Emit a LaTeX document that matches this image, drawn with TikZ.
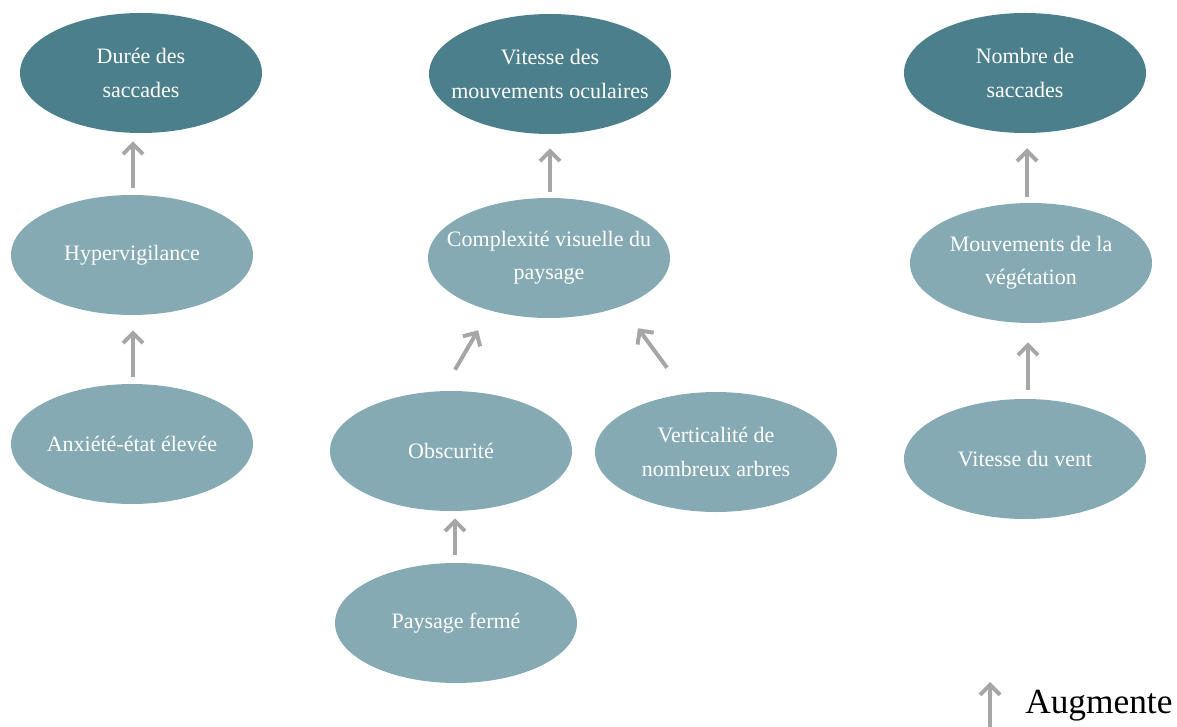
\documentclass[tikz,border=0pt]{standalone}
\usepackage{fontspec}
\setmainfont{Liberation Serif}
\usepackage{tikz}
\usepackage{xcolor}
\usetikzlibrary{arrows.meta,positioning,calc,shapes.geometric}
\definecolor{tealdark}{HTML}{4A7F8B}
\definecolor{teallight}{HTML}{86AAB4}
\definecolor{arrowgray}{HTML}{A6A6A6}

\begin{document}
\begin{tikzpicture}[x=0.75pt,y=-0.75pt,
    oval/.style={ellipse,minimum width=181.5pt,minimum height=90pt,
                 inner xsep=-20pt,inner ysep=0pt,
                 text=white,align=center,font=\fontsize{16.5}{25}\selectfont},
    cible/.style={oval,fill=tealdark},
    facteur/.style={oval,fill=teallight},
    hausse/.style={draw=arrowgray,line width=3pt,
                   -{Straight Barb[length=7.5pt,width=15pt]}}]
  \useasboundingbox (0,0) rectangle (1177,727);

  % effets mesures
  \node[cible] (duree)   at (141,73)  {Durée des\\saccades};
  \node[cible] (vitesse) at (550,74)  {Vitesse des\\mouvements oculaires};
  \node[cible] (nombre)  at (1025,73) {Nombre de\\saccades};

  % facteurs
  \node[facteur] (hyper)   at (132,255)  {Hypervigilance};
  \node[facteur] (compl)   at (549,258)  {Complexité visuelle du\\paysage};
  \node[facteur] (mouv)    at (1031,263) {Mouvements de la\\végétation};
  \node[facteur] (anx)     at (132,444)  {Anxiété-état élevée};
  \node[facteur] (obsc)    at (451,451)  {Obscurité};
  \node[facteur] (vert)    at (716,452)  {Verticalité de\\nombreux arbres};
  \node[facteur] (vent)    at (1025,459) {Vitesse du vent};
  \node[facteur] (paysage) at (456,623)  {Paysage fermé};

  \draw[hausse] ($(hyper.north)+(1,-7)$)    -- ($(duree.south)+(-8,8)$);
  \draw[hausse] ($(anx.north)+(1,-7)$)      -- ($(hyper.south)+(1,15)$);
  \draw[hausse] ($(compl.north)+(1,-6)$)    -- ($(vitesse.south)+(0,14)$);
  \draw[hausse] ($(obsc.north)+(4,-21)$)    -- ($(compl.south)+(-71,12)$);
  \draw[hausse] ($(vert.north)+(-49,-24)$)  -- ($(compl.south)+(89,10)$);
  \draw[hausse] ($(paysage.north)+(-1,-8)$) -- ($(obsc.south)+(4,7)$);
  \draw[hausse] ($(vent.north)+(3,-9)$)     -- ($(mouv.south)+(-3,19)$);
  \draw[hausse] ($(mouv.north)+(-4,-6)$)    -- ($(nombre.south)+(2,15)$);

  % legende
  \node[anchor=base west,inner sep=0pt,font=\fontsize{26.5}{30}\selectfont]
    (augm) at (1025,713) {Augmente};
  \coordinate (legbas) at (990,727);
  \draw[hausse] (legbas) -- ($(legbas)+(0,-45)$);
\end{tikzpicture}
\end{document}
